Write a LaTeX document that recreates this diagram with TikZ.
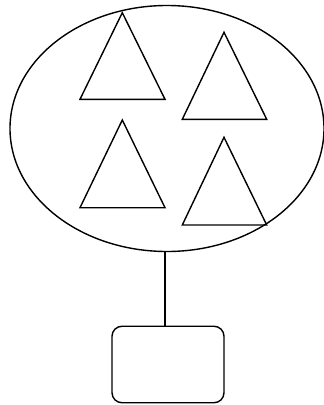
\documentclass[tikz,border=0pt]{standalone}
\usetikzlibrary{shapes.geometric}
\begin{document}
\begin{tikzpicture}[x=1pt,y=-1pt,
  lw/.style={line width=1.4pt, line join=miter},
  ellshape/.style={draw, lw, ellipse, minimum width=314pt, minimum height=246pt, inner sep=0pt},
  boxshape/.style={draw, lw, rounded corners=10pt, minimum width=112pt, minimum height=76.5pt, inner sep=0pt},
  tri/.style={draw, lw}]
\useasboundingbox (0,0) rectangle (324,405);
\node[ellshape] (ell) at (167,128.5) {};
\node[boxshape] (box) at (168,364.5) {};
\draw[lw] ([xshift=-2pt]ell.south) -- ([xshift=-3pt]box.north);
\draw[tri] (122.3,12.7) -- (165,99.3) -- (80,99.3) -- cycle;
\draw[tri] (224,32.3) -- (266.7,119.3) -- (182.3,119.3) -- cycle;
\draw[tri] (122.3,120) -- (165,207.7) -- (80,207.7) -- cycle;
\draw[tri] (224,137.3) -- (266.7,225) -- (182.3,225) -- cycle;
\end{tikzpicture}
\end{document}
